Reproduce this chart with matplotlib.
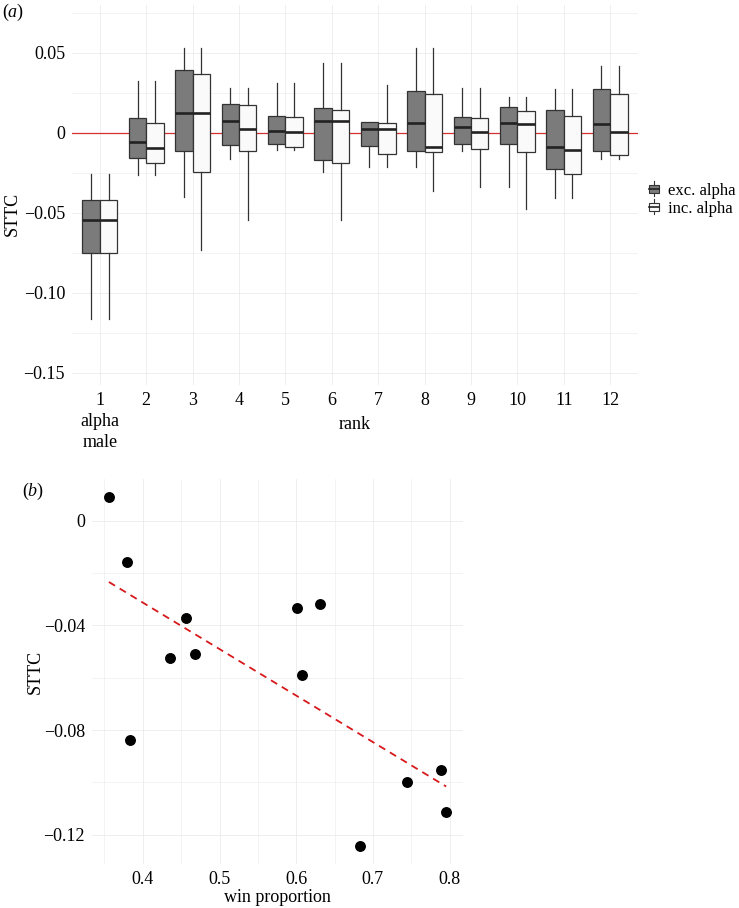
import numpy as np
import matplotlib
matplotlib.use("Agg")
import matplotlib.pyplot as plt
from matplotlib.patches import Rectangle, Patch
from matplotlib.lines import Line2D
from matplotlib.legend_handler import HandlerBase
from matplotlib.ticker import FixedLocator, MultipleLocator

plt.rcParams['font.family'] = ['Liberation Serif', 'DejaVu Serif']
plt.rcParams['mathtext.fontset'] = 'custom'
plt.rcParams['mathtext.it'] = 'Liberation Serif:italic'
plt.rcParams['mathtext.rm'] = 'Liberation Serif'

# ---------------- data: panel (a) ----------------
ranks = list(range(1, 13))
rank_labels = ["1\nalpha\nmale"] + [str(r) for r in range(2, 13)]

exc_whislo = [-0.1164, -0.0266, -0.0404, -0.0166, -0.0106, -0.0246, -0.0216, -0.0216, -0.0117, -0.0337, -0.0406, -0.0166]
exc_q1     = [-0.0752, -0.0160, -0.0112, -0.0079, -0.0071, -0.0169, -0.0085, -0.0114, -0.0069, -0.0071, -0.0227, -0.0114]
exc_med    = [-0.0548, -0.0058,  0.0125,  0.0073,  0.0009,  0.0071,  0.0025,  0.0059,  0.0034,  0.0059, -0.0091,  0.0052]
exc_q3     = [-0.0423,  0.0092,  0.0392,  0.0179,  0.0106,  0.0156,  0.0067,  0.0259,  0.0096,  0.0159,  0.0142,  0.0273]
exc_whishi = [-0.0258,  0.0321,  0.0527,  0.0279,  0.0309,  0.0433,  0.0069,  0.0527,  0.0279,  0.0221,  0.0271,  0.0419]

inc_whislo = [-0.1164, -0.0266, -0.0735, -0.0546, -0.0106, -0.0546, -0.0216, -0.0366, -0.0337, -0.0477, -0.0406, -0.0166]
inc_q1     = [-0.0752, -0.0191, -0.0244, -0.0117, -0.0090, -0.0191, -0.0133, -0.0123, -0.0102, -0.0119, -0.0258, -0.0138]
inc_med    = [-0.0548, -0.0096,  0.0125,  0.0023,  0.0002,  0.0071,  0.0025, -0.0087,  0.0002,  0.0054, -0.0106,  0.0002]
inc_q3     = [-0.0423,  0.0063,  0.0367,  0.0175,  0.0096,  0.0142,  0.0063,  0.0240,  0.0090,  0.0134,  0.0102,  0.0240]
inc_whishi = [-0.0258,  0.0321,  0.0527,  0.0279,  0.0309,  0.0433,  0.0298,  0.0527,  0.0279,  0.0221,  0.0271,  0.0419]

series_names = ["exc. alpha", "inc. alpha"]
series_fill = ["#7b7b7b", "#fafafa"]

a_yticks = [-0.15, -0.10, -0.05, 0.0, 0.05]
a_yticklabels = ["\u22120.15", "\u22120.10", "\u22120.05", "0", "0.05"]

# ---------------- data: panel (b) ----------------
win_prop = [0.3557, 0.3795, 0.4561, 0.4360, 0.4686, 0.6017, 0.6309, 0.6082, 0.3834, 0.6839, 0.7448, 0.7890, 0.7956]
sttc_b   = [0.0093, -0.0158, -0.0372, -0.0525, -0.0508, -0.0332, -0.0318, -0.0588, -0.0836, -0.1245, -0.0999, -0.0954, -0.1112]

b_xticks = [0.4, 0.5, 0.6, 0.7, 0.8]
b_xticklabels = ["0.4", "0.5", "0.6", "0.7", "0.8"]
b_yticks = [-0.12, -0.08, -0.04, 0.0]
b_yticklabels = ["\u22120.12", "\u22120.08", "\u22120.04", "0"]

EDGE = "#333333"
GRID = "#ebebeb"
FS = 13

fig = plt.figure(figsize=(7.39, 9.08), dpi=100)

# ================= panel (a) =================
axa = fig.add_axes([72/739, 1-385/908, 566/739, 380/908])
for s in axa.spines.values():
    s.set_visible(False)

def stats_list(lo, q1, med, q3, hi):
    return [dict(whislo=a, q1=b, med=c, q3=d, whishi=e, fliers=[])
            for a, b, c, d, e in zip(lo, q1, med, q3, hi)]

w = 0.375
groups = [
    (stats_list(exc_whislo, exc_q1, exc_med, exc_q3, exc_whishi), -w/2, series_fill[0]),
    (stats_list(inc_whislo, inc_q1, inc_med, inc_q3, inc_whishi), +w/2, series_fill[1]),
]
for st, off, fc in groups:
    axa.bxp(st, positions=[r + off for r in ranks], widths=w, showcaps=False,
            showfliers=False, patch_artist=True, manage_ticks=False,
            boxprops=dict(facecolor=fc, edgecolor=EDGE, linewidth=0.9),
            whiskerprops=dict(color=EDGE, linewidth=0.9),
            medianprops=dict(color="#222222", linewidth=1.9),
            zorder=3)

axa.axhline(0, color="#d62f2f", linewidth=0.9, zorder=2)

axa.set_xlim(0.4, 12.6)
axa.set_ylim(-0.1577, 0.0798)
axa.set_xticks(ranks)
axa.set_xticklabels(rank_labels, fontsize=FS, linespacing=1.3)
axa.set_yticks(a_yticks)
axa.set_yticklabels(a_yticklabels, fontsize=FS)
axa.yaxis.set_minor_locator(MultipleLocator(0.025))
axa.tick_params(axis='both', which='both', length=0, pad=5)
axa.grid(True, which='major', color=GRID, linewidth=0.6, zorder=0)
axa.grid(True, which='minor', axis='y', color=GRID, linewidth=0.4, zorder=0)
axa.set_axisbelow(True)
axa.set_xlabel("rank", fontsize=FS)
axa.xaxis.set_label_coords(0.5, -0.082)
axa.set_ylabel("STTC", fontsize=FS)
axa.yaxis.set_label_coords(-0.09, 0.45)

fig.text(2/739, 1-12/908, r"($\mathit{a}$)", fontsize=FS, va='center', ha='left')

# legend with mini boxplot keys
class BoxKey(HandlerBase):
    def create_artists(self, legend, orig_handle, xdescent, ydescent,
                       width, height, fontsize, trans):
        fc = orig_handle.get_facecolor()
        x0, y0 = -xdescent, -ydescent
        cx = x0 + width/2
        wl = Line2D([cx, cx], [y0, y0 + height], color=EDGE, lw=0.8, transform=trans)
        r = Rectangle((x0 + width*0.1, y0 + height*0.22), width*0.8, height*0.56,
                      facecolor=fc, edgecolor=EDGE, lw=0.8, transform=trans)
        m = Line2D([x0 + width*0.1, x0 + width*0.9], [y0 + height/2]*2,
                   color="#222222", lw=1.2, transform=trans)
        return [wl, r, m]

handles = [Patch(facecolor=c, edgecolor=EDGE) for c in series_fill]
fig.legend(handles, series_names, loc='center left',
           bbox_to_anchor=(648/739, 1-199/908), frameon=False, fontsize=12,
           handler_map={Patch: BoxKey()}, handlelength=0.75, handleheight=1.0,
           handletextpad=0.45, labelspacing=0.05, borderpad=0, borderaxespad=0)

# ================= panel (b) =================
axb = fig.add_axes([92/739, 1-864/908, 371/739, 385/908])
for s in axb.spines.values():
    s.set_visible(False)

axb.scatter(win_prop, sttc_b, s=62, color="black", zorder=3, linewidths=0)
coef = np.polyfit(win_prop, sttc_b, 1)
xs = np.array([min(win_prop), max(win_prop)])
axb.plot(xs, np.polyval(coef, xs), color="#d7191c", linewidth=1.3,
         linestyle=(0, (4, 3)), zorder=2)

axb.set_xlim(0.3337, 0.8176)
axb.set_ylim(-0.1312, 0.0160)
axb.set_xticks(b_xticks)
axb.set_xticklabels(b_xticklabels, fontsize=FS)
axb.set_yticks(b_yticks)
axb.set_yticklabels(b_yticklabels, fontsize=FS)
axb.xaxis.set_minor_locator(MultipleLocator(0.05))
axb.yaxis.set_minor_locator(FixedLocator([-0.10, -0.06, -0.02]))
axb.tick_params(axis='both', which='both', length=0, pad=5)
axb.grid(True, which='major', color=GRID, linewidth=0.6, zorder=0)
axb.grid(True, which='minor', color=GRID, linewidth=0.4, zorder=0)
axb.set_axisbelow(True)
axb.set_xlabel("win proportion", fontsize=FS)
axb.xaxis.set_label_coords(0.5, -0.066)
axb.set_ylabel("STTC", fontsize=FS)
axb.yaxis.set_label_coords(-0.13, 0.5)

fig.text(22/739, 1-491/908, r"($\mathit{b}$)", fontsize=FS, va='center', ha='left')

fig.savefig("out.png", dpi=100)
